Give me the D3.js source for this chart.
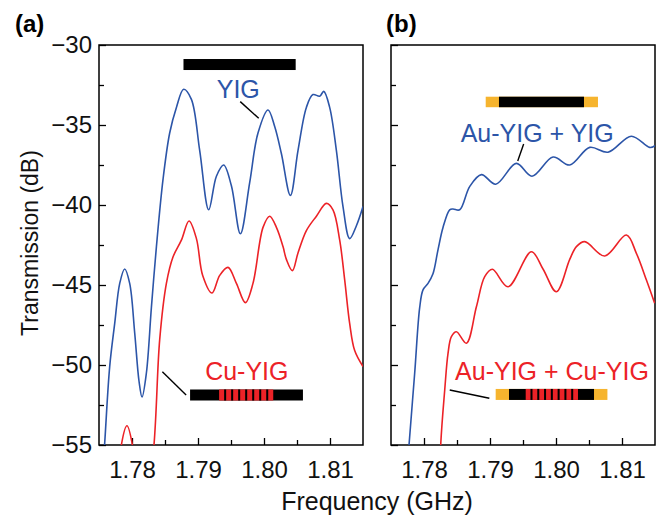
<!DOCTYPE html>
<html>
<head>
<meta charset="utf-8">
<script src="https://cdn.jsdelivr.net/npm/d3@7"></script>
<style>
  body { margin: 0; background: #fff; }
  svg text { font-family: "Liberation Sans", Arial, sans-serif; }
</style>
</head>
<body>
<svg id="chart" width="662" height="518"></svg>
<script>
// tick values
const freqTicks = [1.78, 1.79, 1.80, 1.81];
const freqMinor = [1.785, 1.795, 1.805];
const dbTicks = [-30, -35, -40, -45, -50, -55];
const dbMinor = [-32.5, -37.5, -42.5, -47.5, -52.5];

// (a) YIG, blue
const yigFreq = [1.7752, 1.77586, 1.77662, 1.77738, 1.77814, 1.77889, 1.77965, 1.78041, 1.78106, 1.78152,
  1.78218, 1.78294, 1.7837, 1.7847, 1.78571, 1.78673, 1.78783, 1.789, 1.79026, 1.79162,
  1.79279, 1.79389, 1.79506, 1.79642, 1.79783, 1.79909, 1.80061, 1.80162, 1.80264, 1.804,
  1.80515, 1.80642, 1.80742, 1.80844, 1.80905, 1.80995, 1.81097, 1.81197, 1.81298, 1.814, 1.8150];
const yigDb = [-59, -54.9, -50.1, -47.4, -44.9, -44.0, -44.9, -48.0, -51.0, -52.0,
  -50.5, -46.4, -42.6, -38.4, -35.5, -33.9, -32.77, -33.4, -36.6, -40.3,
  -38.2, -37.5, -38.8, -41.8, -38.6, -35.5, -34.06, -35.1, -36.8, -39.4,
  -36.6, -33.9, -33.1, -33.2, -32.9, -33.9, -36.6, -40.1, -42.1, -41.3, -40.1];

// (a) Cu-YIG, red
const cuFreq = [1.7776, 1.77839, 1.77924, 1.78006, 1.7815, 1.78333, 1.7842, 1.78521, 1.78621, 1.78748,
  1.78864, 1.78976, 1.79071, 1.79212, 1.79329, 1.79455, 1.79582, 1.79718, 1.79833, 1.79985,
  1.80086, 1.80188, 1.80288, 1.80339, 1.8043, 1.80515, 1.80642, 1.80794, 1.80945, 1.81045,
  1.81147, 1.81223, 1.81298, 1.81374, 1.8150];
const cuDb = [-60, -55, -53.8, -55, -62, -55, -48.4, -44.9, -43.25, -42.2,
  -41.0, -42.1, -44.4, -45.5, -44.4, -43.9, -44.9, -46.1, -44.9, -41.4,
  -40.7, -41.4, -42.6, -43.4, -44.1, -43.0, -41.6, -40.7, -39.9, -40.3,
  -42.2, -44.7, -47.4, -49.1, -50.1];

// (b) Au-YIG + YIG, blue
const auYigFreq = [1.7772, 1.77773, 1.77859, 1.77935, 1.77985, 1.78061, 1.78136, 1.78212, 1.78288, 1.78389,
  1.78439, 1.78541, 1.78692, 1.7887, 1.79086, 1.794, 1.79636, 1.79955, 1.80208, 1.80511,
  1.80788, 1.81142, 1.81419, 1.8150];
const auYigDb = [-58, -55, -50.5, -46.4, -45.3, -44.9, -44.3, -42.8, -41.4, -40.3,
  -40.25, -40.3, -38.85, -38.1, -38.7, -37.4, -38.2, -37.0, -37.5, -36.4,
  -36.7, -35.7, -36.4, -36.3];

// (b) Au-YIG + Cu-YIG, red
const auCuFreq = [1.7822, 1.78253, 1.78314, 1.78364, 1.78415, 1.78491, 1.78642, 1.78794, 1.7892, 1.79036,
  1.79273, 1.79627, 1.79803, 1.80006, 1.80208, 1.80309, 1.80435, 1.80738,
  1.81067, 1.81218, 1.8137, 1.81495];
const auCuDb = [-60, -55, -51.56, -49.27, -48.23, -47.92, -48.64, -46.36, -44.48, -44.02,
  -45.11, -42.92, -44.0, -45.42, -43.4, -42.6, -42.29, -43.19,
  -41.88, -43.02, -44.69, -46.14];

const BLUE = "#2c55a8";
const RED = "#ec2227";
const GOLD = "#f6b42e";

const svg = d3.select("#chart");
const W = 264, H = 400, TOP = 45;

const x = d3.scaleLinear().domain([1.775, 1.815]).range([0, W]);
const y = d3.scaleLinear().domain([-55, -30]).range([H, 0]);
const line = d3.line().x(d => x(d[0])).y(d => y(d[1])).curve(d3.curveCatmullRom.alpha(0.5));

function zip(a, b) { return a.map((v, i) => [v, b[i]]); }

function panel(id, left, showLabels) {
  const g = svg.append("g").attr("transform", `translate(${left},${TOP})`);

  g.append("clipPath").attr("id", "clip-" + id)
    .append("rect").attr("width", W).attr("height", H);

  const yAx = d3.axisLeft(y).tickValues(dbTicks).tickSize(-7).tickPadding(7)
    .tickFormat(showLabels ? d3.format("d") : "");
  const yMin = d3.axisLeft(y).tickValues(dbMinor).tickSize(-5).tickFormat("");
  const xAx = d3.axisBottom(x).tickValues(freqTicks).tickSize(-7).tickPadding(16)
    .tickFormat(d3.format(".2f"));
  const xMin = d3.axisBottom(x).tickValues(freqMinor).tickSize(-5).tickFormat("");

  [yAx, yMin].forEach(a => g.append("g").call(a));
  [xAx, xMin].forEach(a => g.append("g").attr("transform", `translate(0,${H})`).call(a));
  g.selectAll(".domain").remove();
  g.selectAll(".tick line").attr("stroke", "#000").attr("stroke-width", 1.3);
  g.selectAll(".tick text").attr("font-size", 24).attr("fill", "#111")
    .attr("font-family", "Liberation Sans, Arial, sans-serif");

  g.append("rect").attr("width", W).attr("height", H)
    .attr("fill", "none").attr("stroke", "#000").attr("stroke-width", 1.5);

  const plot = g.append("g").attr("clip-path", `url(#clip-${id})`);
  return { g, plot };
}

function curve(p, data, color) {
  p.append("path").datum(data).attr("d", line)
    .attr("fill", "none").attr("stroke", color).attr("stroke-width", 1.6);
}

function bar(g, f1, f2, db, h, color) {
  g.append("rect").attr("x", x(f1)).attr("y", y(db) - h / 2)
    .attr("width", x(f2) - x(f1)).attr("height", h).attr("fill", color);
}

function stripes(g, f1, f2, db, h, n) {
  // red section with n thin black lines
  bar(g, f1, f2, db, h, RED);
  const x1 = x(f1), x2 = x(f2), lw = 2;
  const seg = (x2 - x1 - n * lw) / (n + 1);
  d3.range(n).forEach(i => {
    g.append("rect").attr("x", x1 + seg * (i + 1) + lw * i).attr("y", y(db) - h / 2)
      .attr("width", lw).attr("height", h).attr("fill", "#000");
  });
}

function label(g, f, db, text, color) {
  g.append("text").attr("x", x(f)).attr("y", y(db)).attr("text-anchor", "middle")
    .attr("font-size", 25).attr("fill", color).text(text);
}

function pointer(g, a, b) {
  g.append("line").attr("x1", x(a[0])).attr("y1", y(a[1]))
    .attr("x2", x(b[0])).attr("y2", y(b[1]))
    .attr("stroke", "#000").attr("stroke-width", 1.4);
}

// panel (a)
const A = panel("a", 99, true);
curve(A.plot, zip(yigFreq, yigDb), BLUE);
curve(A.plot, zip(cuFreq, cuDb), RED);
bar(A.g, 1.7878, 1.8048, -31.22, 11, "#000");
label(A.g, 1.7961, -33.31, "YIG", BLUE);
pointer(A.g, [1.7964, -33.54], [1.7992, -34.58]);
bar(A.g, 1.7888, 1.8059, -51.875, 11, "#000");
stripes(A.g, 1.7932, 1.8014, -51.875, 11, 7);
label(A.g, 1.7974, -50.94, "Cu-YIG", RED);
pointer(A.g, [1.7846, -50.42], [1.7882, -51.875]);

// panel (b)
const B = panel("b", 391, false);
curve(B.plot, zip(auYigFreq, auYigDb), BLUE);
curve(B.plot, zip(auCuFreq, auCuDb), RED);
bar(B.g, 1.78935, 1.80636, -33.56, 10.5, GOLD);
bar(B.g, 1.79136, 1.80424, -33.56, 10.5, "#000");
label(B.g, 1.79715, -36.04, "Au-YIG + YIG", BLUE);
pointer(B.g, [1.7951, -36.19], [1.7942, -37.25]);
bar(B.g, 1.79086, 1.80779, -51.84, 11, GOLD);
bar(B.g, 1.79288, 1.80576, -51.84, 11, "#000");
stripes(B.g, 1.79541, 1.80333, -51.84, 11, 7);
label(B.g, 1.79939, -50.94, "Au-YIG + Cu-YIG", RED);
pointer(B.g, [1.7839, -51.56], [1.7899, -52.08]);

// panel letters and axis titles
svg.append("text").attr("x", 15).attr("y", 32).attr("font-size", 24)
  .attr("font-weight", "bold").text("(a)");
svg.append("text").attr("x", 386).attr("y", 32).attr("font-size", 24)
  .attr("font-weight", "bold").text("(b)");
svg.append("text").attr("transform", "translate(38,243) rotate(-90)")
  .attr("text-anchor", "middle").attr("font-size", 23).attr("fill", "#111")
  .text("Transmission (dB)");
svg.append("text").attr("x", 377).attr("y", 510).attr("text-anchor", "middle")
  .attr("font-size", 25).attr("fill", "#111").text("Frequency (GHz)");
</script>
</body>
</html>
